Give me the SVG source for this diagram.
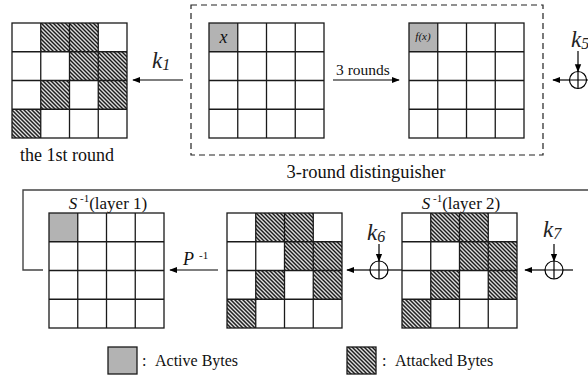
<svg xmlns="http://www.w3.org/2000/svg" xmlns:xlink="http://www.w3.org/1999/xlink" width="588" height="380" viewBox="0 0 588 380">
  <defs>
    <pattern id="hatch" patternUnits="userSpaceOnUse" width="2.83" height="2.83" patternTransform="rotate(-45)">
      <rect width="2.83" height="2.83" fill="#fff"/>
      <rect x="0" y="0" width="1.45" height="2.83" fill="#000"/>
    </pattern>
    <marker id="arrow" viewBox="0 0 10 10" refX="9" refY="5" markerWidth="8" markerHeight="8" markerUnits="userSpaceOnUse" orient="auto">
      <path d="M0,1 L10,5 L0,9 z" fill="#000"/>
    </marker>
    <!-- 4x4 state grid, 115 px square -->
    <g id="grid">
      <path d="M28.75,0 V115 M57.5,0 V115 M86.25,0 V115 M0,28.75 H115 M0,57.5 H115 M0,86.25 H115" class="cell"/>
      <rect x="0" y="0" width="115" height="115" class="cell"/>
    </g>
    <!-- hatched bytes of the attacked state -->
    <g id="attacked">
      <rect x="28.75" y="0" width="28.75" height="28.75" fill="url(#hatch)"/>
      <rect x="57.5" y="0" width="28.75" height="28.75" fill="url(#hatch)"/>
      <rect x="57.5" y="28.75" width="28.75" height="28.75" fill="url(#hatch)"/>
      <rect x="86.25" y="28.75" width="28.75" height="28.75" fill="url(#hatch)"/>
      <rect x="28.75" y="57.5" width="28.75" height="28.75" fill="url(#hatch)"/>
      <rect x="86.25" y="57.5" width="28.75" height="28.75" fill="url(#hatch)"/>
      <rect x="0" y="86.25" width="28.75" height="28.75" fill="url(#hatch)"/>
    </g>
  </defs>
  <style>
    .cell { fill: none; stroke: #1a1a1a; stroke-width: 1.3; }
    .active { fill: #b3b3b3; }
    .line { fill: none; stroke: #000; stroke-width: 1.2; }
    .loop { fill: none; stroke: #444; stroke-width: 1.4; }
    .dash { fill: none; stroke: #222; stroke-width: 1.2; stroke-dasharray: 6 4; }
    .txt { font-family: "Liberation Serif", "Times New Roman", serif; fill: #111; }
    .key { font-family: "Liberation Serif", "Times New Roman", serif; font-style: italic; font-size: 23px; fill: #222; }
  </style>

  <rect width="588" height="380" fill="#fff"/>

  <!-- connectors -->
  <g id="connectors">
    <rect x="191" y="5" width="352" height="150" class="dash"/>
    <polyline points="588,190 23,190 23,270 43,270" class="loop"/>
    <line x1="183" y1="80" x2="133" y2="80" class="line" marker-end="url(#arrow)"/>
    <line x1="333" y1="80" x2="399" y2="80" class="line" marker-end="url(#arrow)"/>
    <line x1="218" y1="270" x2="170" y2="270" class="line" marker-end="url(#arrow)"/>
    <!-- key additions -->
    <line x1="569.5" y1="80" x2="553" y2="80" class="line" marker-end="url(#arrow)"/>
    <line x1="578" y1="51" x2="578" y2="71.5" class="line" marker-end="url(#arrow)"/>
    <line x1="370" y1="270" x2="347" y2="270" class="line" marker-end="url(#arrow)"/>
    <line x1="388" y1="270" x2="402" y2="270" class="line"/>
    <line x1="379" y1="244" x2="379" y2="261" class="line" marker-end="url(#arrow)"/>
    <line x1="545" y1="270" x2="525" y2="270" class="line" marker-end="url(#arrow)"/>
    <line x1="563" y1="270" x2="573" y2="270" class="line"/>
    <line x1="554" y1="244" x2="554" y2="261" class="line" marker-end="url(#arrow)"/>
  </g>

  <!-- XOR nodes -->
  <g id="xor-k5">
    <circle cx="578" cy="80" r="8.5" class="line"/>
    <path d="M578,71.5 V88.5 M569.5,80 H588" class="line"/>
    <text x="571" y="47" class="key">k<tspan font-size="16" dy="2">5</tspan></text>
  </g>
  <g id="xor-k6">
    <circle cx="379" cy="270" r="9" class="line"/>
    <path d="M379,261 V279 M370,270 H388" class="line"/>
    <text x="367" y="240" class="key">k<tspan font-size="16" dy="2">6</tspan></text>
  </g>
  <g id="xor-k7">
    <circle cx="554" cy="270" r="9" class="line"/>
    <path d="M554,261 V279 M545,270 H563" class="line"/>
    <text x="543" y="237" class="key">k<tspan font-size="16" dy="2">7</tspan></text>
  </g>

  <!-- labels on connectors -->
  <text x="152" y="68" class="key">k<tspan font-size="16" dy="2">1</tspan></text>
  <text x="336" y="75" class="txt" font-size="15.5">3 rounds</text>
  <text x="183" y="265" class="txt" font-size="18" font-style="italic">P</text>
  <text x="199" y="259" class="txt" font-size="11">-1</text>
  <text x="366" y="178" class="txt" font-size="18.5" text-anchor="middle">3-round distinguisher</text>

  <!-- state after the first round -->
  <g id="state-round1" transform="translate(12,23)">
    <use xlink:href="#attacked"/>
    <use xlink:href="#grid"/>
    <text x="55" y="138" class="txt" font-size="18" text-anchor="middle">the 1st round</text>
  </g>

  <!-- distinguisher input -->
  <g id="state-input" transform="translate(209,23)">
    <rect x="0" y="0" width="28.75" height="28.75" class="active"/>
    <use xlink:href="#grid"/>
    <text x="14.5" y="20" class="txt" font-size="18" font-style="italic" text-anchor="middle">x</text>
  </g>

  <!-- distinguisher output -->
  <g id="state-output" transform="translate(409,23)">
    <rect x="0" y="0" width="28.75" height="28.75" class="active"/>
    <use xlink:href="#grid"/>
    <text x="14" y="17" class="txt" font-size="11" font-style="italic" text-anchor="middle">f(x)</text>
  </g>

  <!-- inverse S-box, layer 1 -->
  <g id="state-layer1" transform="translate(49,213)">
    <rect x="0" y="0" width="28.75" height="28.75" class="active"/>
    <use xlink:href="#grid"/>
    <text x="59" y="-4" class="txt" font-size="17" text-anchor="middle"><tspan font-style="italic">S</tspan><tspan font-size="11" dy="-7"> -1</tspan><tspan dy="7">(layer 1)</tspan></text>
  </g>

  <!-- state between layers -->
  <g id="state-mid" transform="translate(227,213)">
    <use xlink:href="#attacked"/>
    <use xlink:href="#grid"/>
  </g>

  <!-- inverse S-box, layer 2 -->
  <g id="state-layer2" transform="translate(402,213)">
    <use xlink:href="#attacked"/>
    <use xlink:href="#grid"/>
    <text x="59" y="-4" class="txt" font-size="17" text-anchor="middle"><tspan font-style="italic">S</tspan><tspan font-size="11" dy="-7"> -1</tspan><tspan dy="7">(layer 2)</tspan></text>
  </g>

  <!-- legend -->
  <g id="legend-active">
    <rect x="108" y="347" width="29" height="27" class="active" stroke="#1a1a1a" stroke-width="1.3"/>
    <text x="142" y="366" class="txt" font-size="16">:</text>
    <text x="155" y="366" class="txt" font-size="16">Active Bytes</text>
  </g>
  <g id="legend-attacked">
    <rect x="347" y="347" width="29" height="27" fill="url(#hatch)" stroke="#1a1a1a" stroke-width="1.3"/>
    <text x="382" y="366" class="txt" font-size="16">:</text>
    <text x="395" y="366" class="txt" font-size="16">Attacked Bytes</text>
  </g>
</svg>
